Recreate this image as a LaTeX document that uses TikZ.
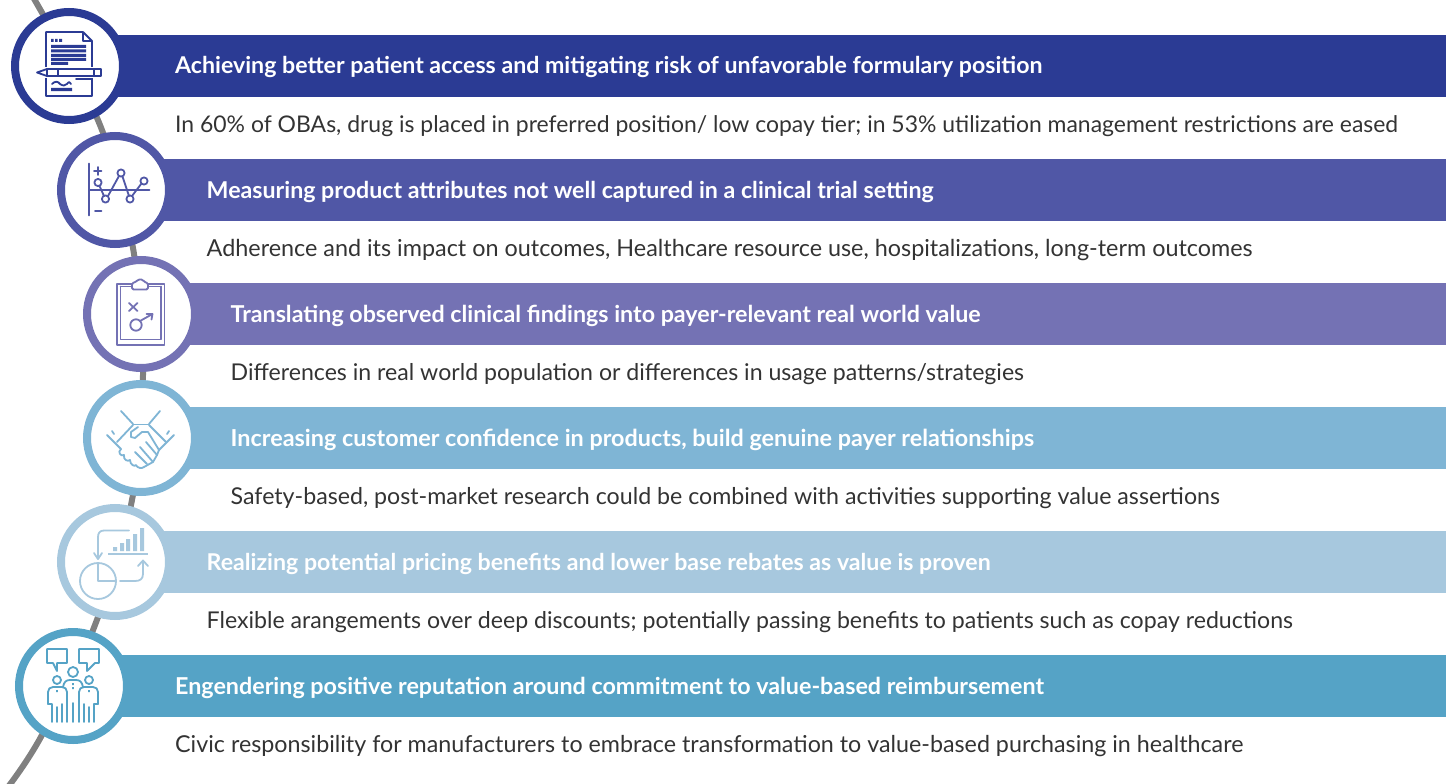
\documentclass[tikz,border=0pt]{standalone}
\usepackage{fontspec}
\setmainfont{Lato}
\definecolor{cA}{HTML}{2B3B94}
\definecolor{cB}{HTML}{5057A6}
\definecolor{cC}{HTML}{7472B4}
\definecolor{cD}{HTML}{7FB5D5}
\definecolor{cE}{HTML}{A7C8DE}
\definecolor{cF}{HTML}{55A3C6}
\definecolor{ink}{HTML}{333333}
\definecolor{rail}{HTML}{808080}
\tikzset{
 bar/.style={fill=#1,draw=none,minimum height=62pt,inner sep=0pt,anchor=north west},
 ring/.style={circle,draw=#1,fill=white,line width=8pt,minimum size=108pt,inner sep=0pt},
 head/.style={text=white,font=\fontsize{#1}{26}\selectfont\bfseries,anchor=base west,inner sep=0pt},
 body/.style={text=ink,font=\fontsize{#1}{26}\selectfont,anchor=base west,inner sep=0pt},
 ic/.style={draw=#1,line width=1.8pt,line cap=round,line join=round},
}
\begin{document}
\begin{tikzpicture}[x=1pt,y=-1pt]
\useasboundingbox (0,0) rectangle (1454,784);
\draw[rail,line width=6pt] plot[smooth,tension=0.6] coordinates {(33,-3) (100,125) (133,248) (143,375) (132,500) (95,625) (42,735) (8,787)};
\node[bar=cA,minimum width=1377pt] (b1) at (69,35) {};
\node[bar=cB,minimum width=1331pt] (b2) at (115,159) {};
\node[bar=cC,minimum width=1305pt] (b3) at (141,283) {};
\node[bar=cD,minimum width=1305pt] (b4) at (141,407) {};
\node[bar=cE,minimum width=1331pt] (b5) at (115,531) {};
\node[bar=cF,minimum width=1373pt] (b6) at (73,655) {};
\node[ring=cA] (c1) at (69,66) {};
\node[ring=cB] (c2) at (115,190) {};
\node[ring=cC] (c3) at (141,314) {};
\node[ring=cD] (c4) at (141,438) {};
\node[ring=cE] (c5) at (115,562) {};
\node[ring=cF] (c6) at (73,686) {};
\node[head=23.15] (h1) at (175,74) {Achieving better patient access and mitigating risk of unfavorable formulary position};
\node[body=22.95] (t1) at (175,132) {In 60\% of OBAs, drug is placed in preferred position/ low copay tier; in 53\% utilization management restrictions are eased};
\node[head=23.2] (h2) at (206.5,198) {Measuring product attributes not well captured in a clinical trial setting};
\node[body=23.37] (t2) at (206.5,256) {Adherence and its impact on outcomes, Healthcare resource use, hospitalizations, long-term outcomes};
\node[head=23.25] (h3) at (230.5,322) {Translating observed clinical findings into payer-relevant real world value};
\node[body=23.12] (t3) at (230.5,380) {Differences in real world population or differences in usage patterns/strategies};
\node[head=23.36] (h4) at (230.5,446) {Increasing customer confidence in products, build genuine payer relationships};
\node[body=23.18] (t4) at (230.5,504) {Safety-based, post-market research could be combined with activities supporting value assertions};
\node[head=23.15] (h5) at (206.5,570) {Realizing potential pricing benefits and lower base rebates as value is proven};
\node[body=23.12] (t5) at (206.5,628) {Flexible arangements over deep discounts; potentially passing benefits to patients such as copay reductions};
\node[head=23.28] (h6) at (175,694) {Engendering positive reputation around commitment to value-based reimbursement};
\node[body=23.27] (t6) at (175,752) {Civic responsibility for manufacturers to embrace transformation to value-based purchasing in healthcare};
% icon 1
\begin{scope}[ic=cA]
\draw (83,32) -- (46,32) -- (46,96) -- (92,96) -- (92,41) -- (83,32) -- (83,41) -- (92,41);
\fill[white] (36,67) rectangle (103,78);
\draw (101,69) -- (47,69) -- (37,72.5) -- (47,76) -- (101,76) -- cycle;
\draw (47,69) -- (47,76) (58,69) -- (58,76) (94,69)--(94,76);
\draw (76,79)--(91,79);
\end{scope}
\fill[cA] (51,39) rectangle (53.5,42) (55,39) rectangle (57.5,42) (59,39) rectangle (62,42);
\fill[cA] (51,45) rectangle (86,48) (51,49.5) rectangle (86,52.5) (51,54) rectangle (86,57) (51,58) rectangle (86,61) (51,62) rectangle (68,65) (51,88) rectangle (72,91);
\draw[ic=cA] (52,84) .. controls (55,81) and (58,81) .. (60,84) .. controls (63,86) and (65,86) .. (67,84) .. controls (69,81) and (70,82) .. (71,84);
% icon 2
\begin{scope}[ic=cB]
\draw (89,163.5) -- (89,215.5);
\draw (89,190) -- (149.5,190);
\draw (94,171) -- (101.5,171) (98,167) -- (98,175);
\draw (95,211) -- (101.5,211);
\draw (98,182.5) circle (3.6);
\draw (105.5,199) circle (3.6);
\draw (121,173) circle (3.6);
\draw (130,199) circle (3.6);
\draw (144,181) circle (3.6);
\draw (99.5,186) -- (104,196) (108,196) -- (119,176) (122.5,176.5) -- (129,196) (132,196) -- (141.5,183.5);
\end{scope}
% icon 3
\begin{scope}[ic=cC]
\draw (117,284) rectangle (164.5,345);
\draw (120.5,286.5) -- (120.5,339.5) -- (161,339.5) -- (161,286.5);
\draw (120.5,286.5) -- (132,286.5) (148,286.5) -- (161,286.5);
\fill[white,draw=none] (132,282) rectangle (148,286);
\draw[fill=white,rounded corners=1.5pt] (132,289.5) -- (132,283) -- (136,282) -- (138,279.5) -- (143,279.5) -- (144,282) -- (148,283) -- (148,289.5) -- cycle;
\draw (129,303) -- (137.5,311) (137.5,303) -- (129,311);
\draw (136,325) circle (5.7);
\draw (140,321) -- (152.5,314) (146.5,314) -- (152.5,314) -- (151.5,319.5);
\end{scope}
% icon 4
\begin{scope}[ic=cD]
\draw (121,411) -- (133,424) (160,411) -- (149,424);
\draw (133,424.5) -- (149,424.5);
\draw (107,435) -- (121,449) (174,435) -- (159,450);
\draw (112,431) -- (114,434) (169,431) -- (167,434);
\draw (133,425) -- (117,442) (149,425) -- (166,442);
\draw (138,427) -- (131,432) -- (131,437) -- (135,438) -- (142,432) -- (148,432) -- (159,450);
\draw (121,449) .. controls (117,452) and (121,457) .. (124,455) .. controls (123,460) and (128,462) .. (130,460) .. controls (130,465) and (135,467) .. (136,465) .. controls (137,468) and (142,469) .. (144,467) -- (153,462) -- (157,455) -- (159,450);
\draw (135,452) -- (147,464) (140,447) -- (153,462) (146,442) -- (157,455);
\end{scope}
% icon 5
\begin{scope}[ic=cE]
\draw (98,558) -- (98,537) .. controls (98,533) and (100,530.5) .. (104,530.5) -- (129,530.5);
\draw (94,553) -- (98,559) -- (102,553);
\draw (98,581) circle (18);
\draw (98,563) -- (98,581) -- (116,581);
\draw (120,581) -- (135,581) .. controls (140,581) and (143,579) .. (143,574) -- (143,561) (138,566) -- (143,560.5) -- (148,566);
\draw[line width=2.4pt,line cap=butt] (108,554) -- (148,554);
\end{scope}
\fill[cE] (113,547) rectangle (117,551) (120,543) rectangle (124,551) (126,539) rectangle (130,551) (133,534) rectangle (137,551) (140,528) rectangle (144,551);
% icon 6
\begin{scope}[ic=cF]
\draw (47,649) -- (67,649) -- (67,663) -- (57,663) -- (57,671) -- (53,663) -- (47,663) -- cycle;
\draw (79,649) -- (99,649) -- (99,663) -- (95,663) -- (87,671) -- (87,663) -- (79,663) -- cycle;
\draw (57,680) circle (4);
\draw (73,672) circle (5);
\draw (89,680) circle (4);
\draw (63,687) .. controls (64,682) and (66,680) .. (70,680) -- (76,680) .. controls (80,680) and (82,682) .. (83,687);
\draw (48,704) -- (48,692) .. controls (48,689) and (50,687) .. (53,687) -- (62,687) .. controls (65,687) and (67,689) .. (67,692) -- (67,722);
\draw (98,704) -- (98,692) .. controls (98,689) and (96,687) .. (93,687) -- (84,687) .. controls (81,687) and (79,689) .. (79,692) -- (79,722);
\draw (48,704) -- (52,704) -- (52,722) (98,704) -- (94,704) -- (94,722);
\draw (57,707) -- (57,722) (62,704) -- (62,722) (73,703) -- (73,722) (84,704) -- (84,722) (89,707) -- (89,722);
\end{scope}
\fill[cF] (72.2,683) rectangle (73.8,685) (72.2,687) rectangle (73.8,689) (56.2,690) rectangle (57.8,692) (88.2,690) rectangle (89.8,692);
\end{tikzpicture}
\end{document}
